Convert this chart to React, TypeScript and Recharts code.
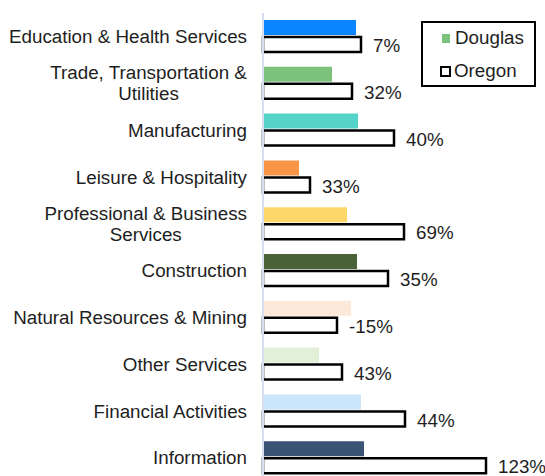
import { BarChart, Bar, XAxis, YAxis, Cell, LabelList, Legend } from "recharts";

const categories = [
  "Education & Health Services",
  "Trade, Transportation &|Utilities",
  "Manufacturing",
  "Leisure & Hospitality",
  "Professional & Business|Services",
  "Construction",
  "Natural Resources & Mining",
  "Other Services",
  "Financial Activities",
  "Information",
];

// bar lengths (arbitrary units)
const douglas = [93, 69, 95, 36, 84, 94, 88, 56, 98, 101];
const oregon = [98, 89, 131, 47, 141, 125, 74, 79, 142, 223];
const oregonLabels = ["7%", "32%", "40%", "33%", "69%", "35%", "-15%", "43%", "44%", "123%"];

const douglasColors = [
  "#0a84ff",
  "#7cc27c",
  "#55d3c9",
  "#f79646",
  "#fdd869",
  "#4b6138",
  "#fde9d9",
  "#e2efd9",
  "#c9e6fb",
  "#3b5475",
];

const data = categories.map((name, i) => ({
  name,
  Douglas: douglas[i],
  Oregon: oregon[i],
  label: oregonLabels[i],
}));

const FONT = "Liberation Sans, Arial, sans-serif";
const FONT_SIZE = 18.8;

let ctx: CanvasRenderingContext2D | null = null;
const measure = (s: string) => {
  if (!ctx) ctx = document.createElement("canvas").getContext("2d");
  if (!ctx) return s.length * 9;
  ctx.font = `${FONT_SIZE}px "Liberation Sans"`;
  return ctx.measureText(s).width;
};

const CategoryTick = (props: any) => {
  const { y, payload } = props;
  const lines: string[] = String(payload.value).split("|");
  const right = 247;
  if (lines.length === 1) {
    return (
      <text x={right} y={y} dy="0.36em" textAnchor="end" fontSize={FONT_SIZE} fontFamily={FONT} fill="#1e1e1e">
        {lines[0]}
      </text>
    );
  }
  const w = Math.max(...lines.map(measure));
  const cx = right - w / 2;
  const lh = 21;
  return (
    <text x={cx} y={y - ((lines.length - 1) * lh) / 2} textAnchor="middle" fontSize={FONT_SIZE} fontFamily={FONT} fill="#1e1e1e">
      {lines.map((l, i) => (
        <tspan key={i} x={cx} dy={i === 0 ? "0.36em" : lh}>
          {l}
        </tspan>
      ))}
    </text>
  );
};

const LegendBox = () => (
  <div
    style={{
      border: "2px solid #000",
      width: 111,
      height: 62,
      boxSizing: "content-box",
      fontFamily: FONT,
      fontSize: FONT_SIZE,
      color: "#1e1e1e",
      position: "relative",
    }}
  >
    <div style={{ position: "absolute", left: 19, top: 4, display: "flex", alignItems: "center" }}>
      <span style={{ display: "inline-block", width: 8, height: 9, background: "#7cc27c", marginRight: 5 }} />
      Douglas
    </div>
    <div style={{ position: "absolute", left: 17, top: 37, display: "flex", alignItems: "center" }}>
      <span style={{ display: "inline-block", width: 7, height: 7, border: "2.5px solid #000", marginRight: 3 }} />
      Oregon
    </div>
  </div>
);

export default function App() {
  return (
    <div style={{ position: "absolute", left: 0, top: 0, width: 545, height: 476, overflow: "hidden", background: "#fff" }}>
      <BarChart
        width={545}
        height={490}
        data={data}
        layout="vertical"
        barSize={15}
        barGap={2}
        margin={{ top: 13, right: 7, bottom: 9, left: 0 }}
      >
        <XAxis type="number" domain={[0, 275]} hide />
        <YAxis
          type="category"
          dataKey="name"
          width={263}
          tickLine={false}
          axisLine={{ stroke: "#d9deef", strokeWidth: 2 }}
          tick={<CategoryTick />}
          interval={0}
        />
        <Legend
          layout="vertical"
          align="center"
          verticalAlign="middle"
          content={<LegendBox />}
          wrapperStyle={{ left: 421, top: 21, width: 115, height: 66 }}
        />
        <Bar dataKey="Douglas" fill="#7cc27c" isAnimationActive={false}>
          {data.map((d, i) => (
            <Cell key={d.name} fill={douglasColors[i]} />
          ))}
        </Bar>
        <Bar dataKey="Oregon" fill="#ffffff" stroke="#000" strokeWidth={2.5} isAnimationActive={false}>
          <LabelList dataKey="label" position="right" offset={12} dy={1} fontSize={FONT_SIZE} fontFamily={FONT} fill="#1e1e1e" />
        </Bar>
      </BarChart>
    </div>
  );
}
